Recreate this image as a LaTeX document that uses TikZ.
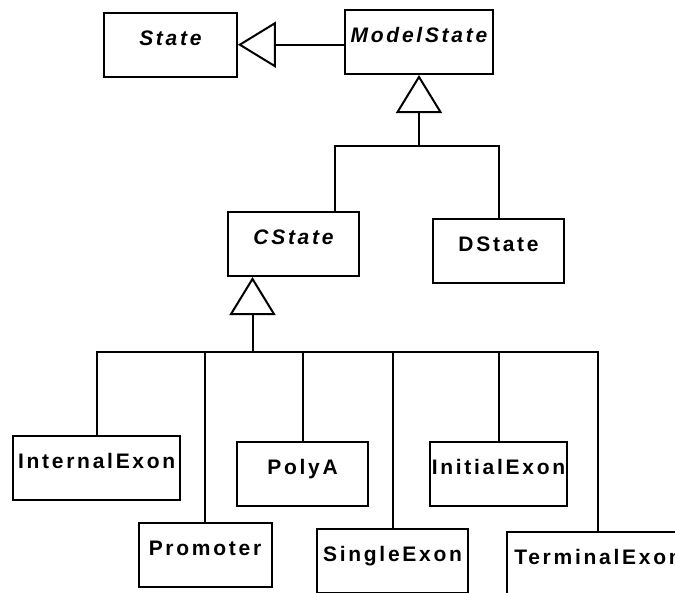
\documentclass[tikz,border=0pt]{standalone}
\usepackage{fontspec}
\newfontfamily\umlfont[LetterSpace=13]{Liberation Sans}
\usetikzlibrary{arrows.meta,calc}

\tikzset{
  cls/.style={draw, line width=2pt, inner sep=0pt, anchor=north,
    text height=32.5pt, text depth=31.5pt,
    font=\umlfont\bfseries\fontsize{21}{25}\selectfont},
  abstractcls/.style={cls, font=\umlfont\bfseries\itshape\fontsize{21}{25}\selectfont},
  link/.style={line width=2pt},
  inherit/.style={link, -{Triangle[open, length=38pt, width=46pt, line width=2pt]}},
}

\begin{document}
\begin{tikzpicture}[x=1pt, y=-1pt]
  \useasboundingbox (0,0) rectangle (675,592);
  \clip (0,0) rectangle (675,592);

  % class boxes: (centre x, top edge)
  \node[abstractcls, minimum width=133pt] (state)      at (170.4,11.7) {State};
  \node[abstractcls, minimum width=148pt] (modelstate) at (419,9)      {ModelState};
  \node[abstractcls, minimum width=131pt] (cstate)     at (293.5,211)  {CState};
  \node[cls, minimum width=131pt]         (dstate)     at (498.5,218)  {DState};

  \node[cls, minimum width=167pt] (internalexon) at (96.7,435)  {InternalExon};
  \node[cls, minimum width=133pt] (promoter)     at (205,522)   {Promoter};
  \node[cls, minimum width=131pt] (polya)        at (302.5,441) {PolyA};
  \node[cls, minimum width=151pt] (singleexon)   at (392.5,528) {SingleExon};
  \node[cls, minimum width=137pt] (initialexon)  at (498.5,441) {InitialExon};
  \node[cls, minimum width=182pt] (terminalexon) at (598,531)   {TerminalExon};

  % ModelState extends State
  \draw[inherit] (modelstate.west |- state.east) -- (state.east);

  % CState and DState extend ModelState
  \coordinate (bus1) at (419,146);
  \draw[inherit] (bus1) -- (modelstate.south);
  \draw[link] ($(cstate.north east)+(-25,0)$) |- (bus1) -| (dstate.north);

  % the concrete states extend CState
  \coordinate (bus2) at (252.5,352);
  \draw[inherit] (bus2) -- (bus2 |- cstate.south);
  \draw[link] (internalexon.north) |- (bus2) -| (terminalexon.north);
  \foreach \c in {promoter, polya, singleexon, initialexon}
    \draw[link] (\c.north) -- (\c.north |- bus2);
\end{tikzpicture}
\end{document}
